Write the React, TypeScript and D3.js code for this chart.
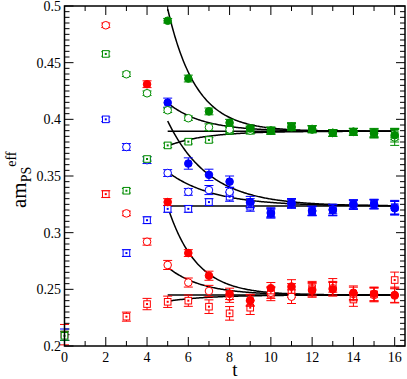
import React from "react";
import * as d3 from "d3";

// ---- data (t, value, error) ----
const redFilledT = [4, 5, 6, 7, 8, 9, 10, 11, 12, 13, 14, 15, 16];
const redFilledV = [0.431, 0.327, 0.282, 0.262, 0.246, 0.240, 0.251, 0.2525, 0.249, 0.250, 0.247, 0.246, 0.245];
const redFilledE = [0.003, 0.003, 0.003, 0.004, 0.005, 0.005, 0.005, 0.006, 0.006, 0.006, 0.006, 0.006, 0.007];

const redOpenT = [2, 3, 4, 5, 6, 7, 8, 9, 10, 11, 12, 13, 14, 15, 16];
const redOpenV = [0.483, 0.317, 0.292, 0.2715, 0.256, 0.2485, 0.2435, 0.2406, 0.247, 0.2435, 0.250, 0.251, 0.2459, 0.245, 0.2445];
const redOpenE = [0.002, 0.002, 0.003, 0.004, 0.004, 0.005, 0.005, 0.005, 0.005, 0.006, 0.006, 0.006, 0.006, 0.006, 0.006];

const redSquareT = [0, 2, 3, 4, 5, 6, 7, 8, 9, 10, 11, 12, 13, 14, 15, 16];
const redSquareV = [0.210, 0.334, 0.2259, 0.237, 0.239, 0.240, 0.2347, 0.2288, 0.2338, 0.246, 0.249, 0.251, 0.2535, 0.241, 0.2456, 0.2582];
const redSquareE = [0.009, 0.003, 0.004, 0.005, 0.005, 0.005, 0.006, 0.006, 0.006, 0.006, 0.006, 0.006, 0.006, 0.006, 0.006, 0.007];

const greenFilledT = [5, 6, 7, 8, 9, 10, 11, 12, 13, 14, 15, 16];
const greenFilledV = [0.487, 0.436, 0.407, 0.397, 0.392, 0.390, 0.393, 0.391, 0.388, 0.389, 0.388, 0.386];
const greenFilledE = [0.002, 0.003, 0.003, 0.003, 0.003, 0.003, 0.003, 0.003, 0.003, 0.003, 0.004, 0.006];

const greenOpenT = [3, 4, 5, 6, 7, 8, 9, 10, 11, 12, 13, 14, 15, 16];
const greenOpenV = [0.4398, 0.423, 0.408, 0.401, 0.393, 0.391, 0.390, 0.390, 0.3935, 0.3915, 0.388, 0.389, 0.3875, 0.384];
const greenOpenE = [0.002, 0.002, 0.002, 0.002, 0.003, 0.003, 0.003, 0.003, 0.003, 0.003, 0.003, 0.003, 0.004, 0.007];

const greenSquareT = [0, 2, 3, 4, 5, 6, 7, 8, 9, 10, 11, 12, 13, 14, 15, 16];
const greenSquareV = [0.209, 0.4577, 0.337, 0.365, 0.377, 0.3803, 0.3818, 0.390, 0.3906, 0.390, 0.394, 0.3915, 0.388, 0.389, 0.3877, 0.387];
const greenSquareE = [0.004, 0.002, 0.002, 0.002, 0.002, 0.002, 0.002, 0.003, 0.003, 0.003, 0.003, 0.003, 0.003, 0.003, 0.003, 0.005];

const blueFilledT = [5, 6, 7, 8, 9, 10, 11, 12, 13, 14, 15, 16];
const blueFilledV = [0.4147, 0.361, 0.351, 0.345, 0.327, 0.317, 0.326, 0.319, 0.320, 0.325, 0.325, 0.3215];
const blueFilledE = [0.004, 0.005, 0.005, 0.005, 0.005, 0.004, 0.004, 0.004, 0.005, 0.004, 0.004, 0.006];

const blueOpenT = [3, 4, 5, 6, 7, 8, 9, 10, 11, 12, 13, 14, 15, 16];
const blueOpenV = [0.3756, 0.364, 0.3526, 0.336, 0.3376, 0.336, 0.326, 0.318, 0.3255, 0.3195, 0.3205, 0.3245, 0.325, 0.322];
const blueOpenE = [0.003, 0.003, 0.003, 0.003, 0.004, 0.004, 0.004, 0.004, 0.004, 0.004, 0.004, 0.004, 0.004, 0.006];

const blueSquareT = [0, 2, 3, 4, 5, 6, 7, 8, 9, 10, 11, 12, 13, 14, 15, 16];
const blueSquareV = [0.210, 0.400, 0.282, 0.311, 0.321, 0.321, 0.327, 0.3317, 0.3229, 0.317, 0.326, 0.319, 0.320, 0.325, 0.3255, 0.3225];
const blueSquareE = [0.005, 0.002, 0.003, 0.003, 0.003, 0.003, 0.003, 0.004, 0.004, 0.004, 0.004, 0.004, 0.005, 0.004, 0.004, 0.006];

// ---- fits: A + B * exp(-m (t - t0)) ----
const fitAsym = [0.3895, 0.3895, 0.3895, 0.3895, 0.3235, 0.3235, 0.3235, 0.245, 0.245, 0.245, 0.245];
const fitAmp = [0.108, 0.025, -0.013, 0, 0.075, 0.03, 0, 0.078, 0.0244, -0.0055, 0];
const fitRate = [0.73, 0.6, 0.55, 0, 0.5, 0.45, 0, 0.72, 0.6, 0.5, 0];
const fitStart = 5;
const fitEnd = 16;

const xTickLabels = ["0", "2", "4", "6", "8", "10", "12", "14", "16"];
const yTickLabels = ["0.2", "0.25", "0.3", "0.35", "0.4", "0.45", "0.5"];

const RED = "#ff0000";
const GREEN = "#008c00";
const BLUE = "#0000ff";

type Series = { t: number[]; v: number[]; e: number[]; color: string; kind: "filled" | "open" | "square" };

const series: Series[] = [
  { t: blueSquareT, v: blueSquareV, e: blueSquareE, color: BLUE, kind: "square" },
  { t: blueOpenT, v: blueOpenV, e: blueOpenE, color: BLUE, kind: "open" },
  { t: blueFilledT, v: blueFilledV, e: blueFilledE, color: BLUE, kind: "filled" },
  { t: redSquareT, v: redSquareV, e: redSquareE, color: RED, kind: "square" },
  { t: redOpenT, v: redOpenV, e: redOpenE, color: RED, kind: "open" },
  { t: redFilledT, v: redFilledV, e: redFilledE, color: RED, kind: "filled" },
  { t: greenSquareT, v: greenSquareV, e: greenSquareE, color: GREEN, kind: "square" },
  { t: greenOpenT, v: greenOpenV, e: greenOpenE, color: GREEN, kind: "open" },
  { t: greenFilledT, v: greenFilledV, e: greenFilledE, color: GREEN, kind: "filled" },
];

const W = 407;
const H = 379;
const L = 64.5, R = 405, T = 6, B = 346;
const FONT = "Liberation Serif";

export default function App() {
  const x = d3.scaleLinear().domain([0, 16.5]).range([L, R]);
  const y = d3.scaleLinear().domain([0.2, 0.5]).range([B, T]);

  const xMajor = xTickLabels.map(Number);
  const xMinor = d3.range(1, 17, 2);
  const yMajor = yTickLabels.map(Number);
  const yMinor = d3.range(0, 61).map((i) => 0.2 + i * 0.005).filter((v) => Math.round(v * 1000) % 50 !== 0);

  const samples = d3.range(0, 221).map((i) => fitStart + (i * (fitEnd - fitStart)) / 220);
  const line = d3.line<number>();
  const fits = fitAsym.map((A, k) =>
    line(samples.map((t) => [x(t), y(A + fitAmp[k] * Math.exp(-fitRate[k] * (t - fitStart)))] as [number, number]))
  );

  const cap = 4.5;
  const majLen = 9, minLen = 5;

  return (
    <svg width={W} height={H} style={{ position: "absolute", left: 0, top: 0, background: "#fff" }}>
      <defs>
        <clipPath id="plotclip">
          <rect x={L} y={T} width={R - L} height={B - T} />
        </clipPath>
      </defs>
      <rect x={0} y={0} width={W} height={H} fill="#fff" />

      {/* ticks */}
      <g stroke="#000" strokeWidth={1}>
        {xMajor.map((t) => (
          <g key={"xm" + t}>
            <line x1={x(t)} x2={x(t)} y1={B} y2={B - majLen} />
            <line x1={x(t)} x2={x(t)} y1={T} y2={T + majLen} />
          </g>
        ))}
        {xMinor.map((t) => (
          <g key={"xn" + t}>
            <line x1={x(t)} x2={x(t)} y1={B} y2={B - minLen} />
            <line x1={x(t)} x2={x(t)} y1={T} y2={T + minLen} />
          </g>
        ))}
        {yMajor.map((v) => (
          <g key={"ym" + v}>
            <line x1={L} x2={L + majLen} y1={y(v)} y2={y(v)} />
            <line x1={R} x2={R - majLen} y1={y(v)} y2={y(v)} />
          </g>
        ))}
        {yMinor.map((v) => (
          <g key={"yn" + v}>
            <line x1={L} x2={L + minLen} y1={y(v)} y2={y(v)} />
            <line x1={R} x2={R - minLen} y1={y(v)} y2={y(v)} />
          </g>
        ))}
      </g>

      {/* fit curves */}
      <g clipPath="url(#plotclip)" fill="none" stroke="#000" strokeWidth={1.5}>
        {fits.map((d, k) => (
          <path key={"fit" + k} d={d || ""} />
        ))}
      </g>

      {/* data */}
      {series.map((s, si) => (
        <g key={"s" + si} stroke={s.color} strokeWidth={1}>
          {s.t.map((t, i) => {
            const cx = x(t);
            const cy = y(s.v[i]);
            const y1 = y(s.v[i] + s.e[i]);
            const y2 = y(s.v[i] - s.e[i]);
            return (
              <g key={i}>
                <line x1={cx} x2={cx} y1={y1} y2={y2} />
                <line x1={cx - cap} x2={cx + cap} y1={y1} y2={y1} />
                <line x1={cx - cap} x2={cx + cap} y1={y2} y2={y2} />
                {s.kind === "filled" && <circle cx={cx} cy={cy} r={3.8} fill={s.color} />}
                {s.kind === "open" && <circle cx={cx} cy={cy} r={3.8} fill="#fff" />}
                {s.kind === "square" && (
                  <g>
                    <rect x={cx - 3.3} y={cy - 3.3} width={6.6} height={6.6} fill="#fff" />
                    <rect x={cx - 1} y={cy - 1} width={2} height={2} fill={s.color} stroke="none" />
                  </g>
                )}
              </g>
            );
          })}
        </g>
      ))}

      {/* frame */}
      <rect x={L} y={T} width={R - L} height={B - T} fill="none" stroke="#000" strokeWidth={1.5} />

      {/* tick labels */}
      <g fill="#000">
        {xMajor.map((t, i) => (
          <text key={"xl" + t} x={x(t)} y={362} textAnchor="middle" fontFamily={FONT} fontSize={14}>
            {xTickLabels[i]}
          </text>
        ))}
        {yMajor.map((v, i) => (
          <text key={"yl" + v} x={61} y={y(v)} dy="0.35em" textAnchor="end" fontFamily={FONT} fontSize={14}>
            {yTickLabels[i]}
          </text>
        ))}
      </g>

      {/* axis labels */}
      <text x={235} y={376} fontSize={19} textAnchor="middle" fontFamily={FONT}>t</text>
      <text transform={`translate(26,208) rotate(-90)`} fontSize={21} fontFamily={FONT}>
        am
        <tspan fontSize={14} dy={5}>PS</tspan>
        <tspan fontSize={14} dy={-15}>eff</tspan>
      </text>
    </svg>
  );
}
